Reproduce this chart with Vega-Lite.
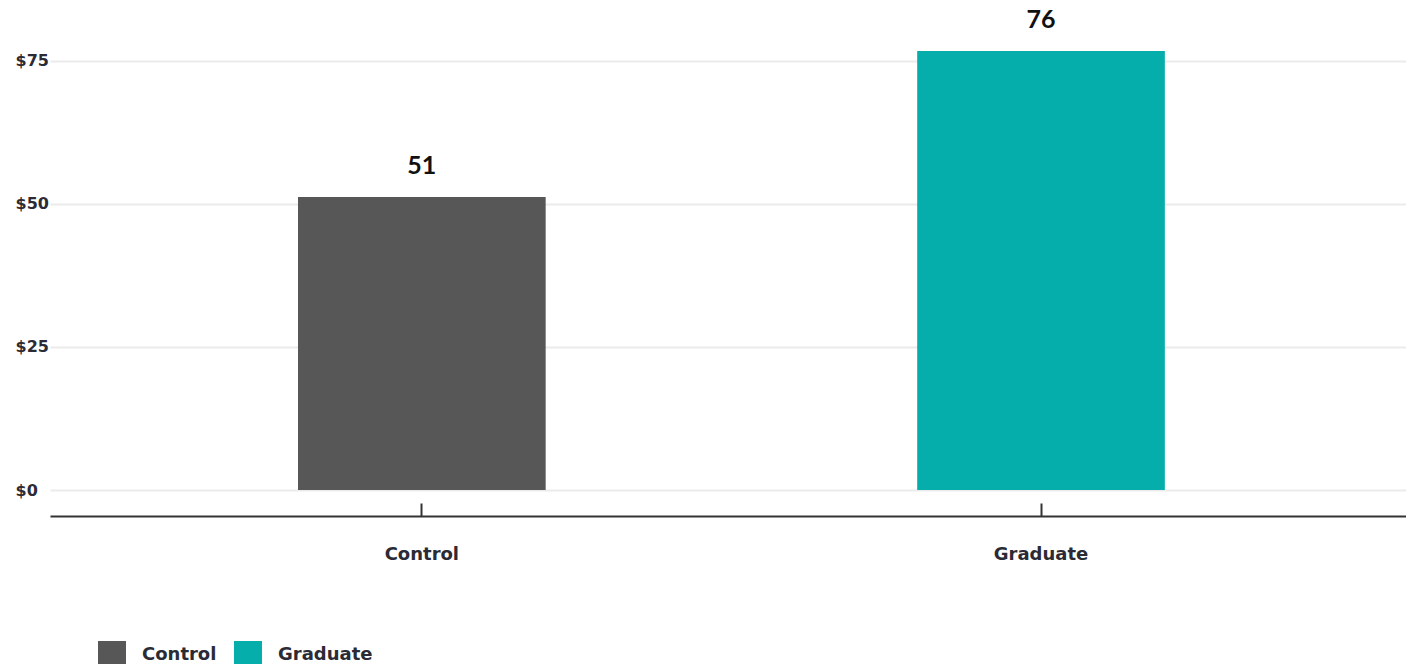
{
  "$schema": "https://vega.github.io/schema/vega-lite/v6.json",
  "width": 1356,
  "height": 458,
  "autosize": {"type": "none"},
  "padding": {"left": 50, "top": 32, "right": 0, "bottom": 174},
  "background": "white",
  "config": {
    "view": {"stroke": null},
    "font": "DejaVu Sans"
  },
  "data": {
    "values": [
      {"group": "Control", "value": 51.2, "label": "51"},
      {"group": "Graduate", "value": 76.7, "label": "76"}
    ]
  },
  "encoding": {
    "x": {
      "field": "group",
      "type": "nominal",
      "sort": null,
      "scale": {"paddingInner": 0.6, "paddingOuter": 0.395, "align": 0.507},
      "axis": {
        "title": null,
        "labelAngle": 0,
        "offset": 26,
        "domainColor": "#333333",
        "domainWidth": 2,
        "tickColor": "#333333",
        "tickWidth": 2,
        "tickSize": -13,
        "labelPadding": 42,
        "labelFontSize": 18,
        "labelFontWeight": "bold",
        "labelColor": "#2b2b35",
        "grid": false
      }
    },
    "y": {
      "field": "value",
      "type": "quantitative",
      "scale": {"domain": [0, 80], "nice": false},
      "axis": {
        "title": null,
        "values": [0, 25, 50, 75],
        "format": "$,.0f",
        "domain": false,
        "ticks": false,
        "labelAlign": "left",
        "labelPadding": 35,
        "labelFontSize": 16,
        "labelFontWeight": "bold",
        "labelColor": "#2b2b35",
        "gridColor": "#ebebeb",
        "gridWidth": 2
      }
    }
  },
  "layer": [
    {
      "mark": {"type": "bar"},
      "encoding": {
        "color": {
          "field": "group",
          "type": "nominal",
          "scale": {"domain": ["Control", "Graduate"], "range": ["#575757", "#05aeaa"]},
          "legend": {
            "title": null,
            "orient": "none",
            "direction": "horizontal",
            "legendX": 48,
            "legendY": 609,
            "symbolType": "square",
            "symbolSize": 784,
            "symbolStrokeWidth": 0,
            "symbolOpacity": 1,
            "labelFontSize": 18,
            "labelFontWeight": "bold",
            "labelColor": "#2b2b35",
            "labelOffset": 16,
            "columnPadding": 17
          }
        }
      }
    },
    {
      "mark": {"type": "text", "baseline": "bottom", "dy": -18, "fontSize": 25, "fontWeight": "bold", "font": "Lato", "color": "#111111"},
      "encoding": {"text": {"field": "label"}}
    }
  ]
}
